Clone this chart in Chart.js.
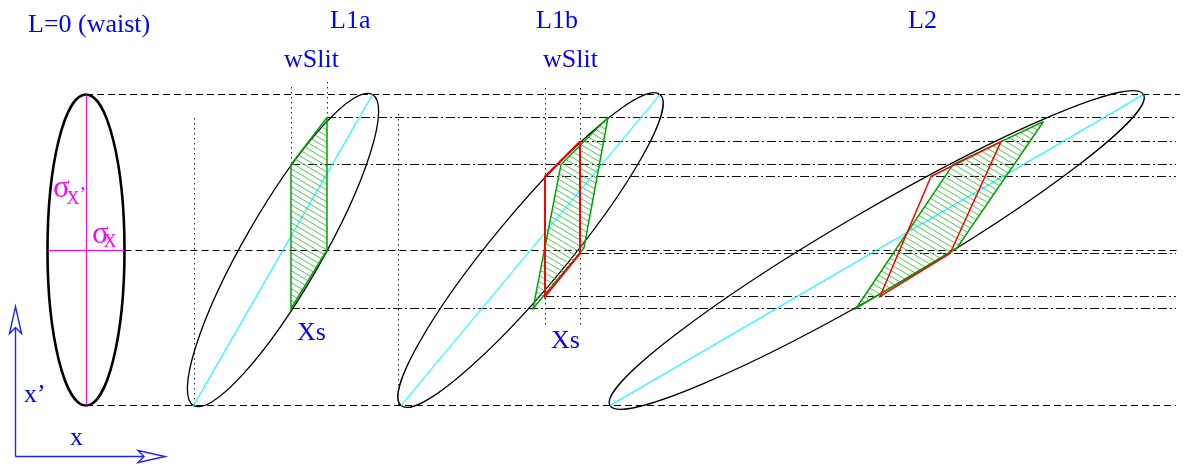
<!DOCTYPE html>
<html>
<head>
<meta charset="utf-8">
<script src="https://cdn.jsdelivr.net/npm/chart.js@4.4.1/dist/chart.umd.min.js"></script>
<style>
  html, body { margin: 0; padding: 0; background: #fff; }
  #wrap { width: 1186px; height: 464px; position: relative; }
</style>
</head>
<body>
<div id="wrap"><canvas id="phase"></canvas></div>
<script>
// x = position (horizontal), x' = angle (vertical, 0 on the beam axis), same units on both
const xRange = [0, 1186];
const yRange = [-214, 250];

// phase-space ellipse at each drift length: ends of the major axis and semi-minor axis
const stations = ['waist', 'L1a', 'L1b', 'L2'];
const axisLow = [[86, -155.5], [193.5, -155.5], [401, -155.5], [610, -155.5]];
const axisHigh = [[86, 155.5], [372.5, 155.5], [660, 155.5], [1143.5, 155.5]];
const minorAxis = [38.5, 38.9, 37, 39.7];
const ellipseWidth = [2.6, 1.3, 1.3, 1.3];

// sigma markers on the waist ellipse
const sigmaXp = [[86.5, -155.5], [86.5, 155.5]];
const sigmaX = [[47.5, -0.5], [124.5, -0.5]];

// dashed envelope lines
const dashedLevels = [155.5, -0.5, -155.5];
const dashedFrom = [86, 124.5, 86];
const dashedTo = [1180, 1180, 1176];

// dash-dot lines at the slit cut levels
const cutLevels = [132.5, 108.5, 85.5, 73.5, -3.5, -46.5, -58.5];
const cutFrom = [327, 580, 291, 545, 580, 545, 291];
const cutTo = 1176;

// dotted verticals (slit edges, tip markers)
const slitLines = [194.5, 291.5, 327.5, 398.5, 545.5, 580.5];
const slitTop = [132, 163, 168, 136, 162, 162];
const slitBottom = [-155.5, 85.5, 132.5, -155.5, -76, -76];

// beam passing the slit (green, hatched) and slit acceptance (red)
const l1aPassed = [[327, 132.5], [291, 85.5], [291, -58.5], [327, 0]];
const l1bPassed = [[608, 132.5], [561, 85.5], [533, -58.5], [584, 2]];
const l1bSlit = [[580, 108.5], [545, 73.5], [545, -46.5], [580, -3.5]];
const l2Passed = [[1043.5, 128.5], [953, 85.5], [856, -58.5], [957, 2]];
const l2Slit = [[931, 73.5], [1001, 108.5], [950, -3.5], [880, -46.5]];

// text labels (baseline left)
const labelText = ['L=0 (waist)', 'L1a', 'L1b', 'L2', 'wSlit', 'wSlit', 'Xs', 'Xs', 'x\u2019', 'x'];
const labelX = [28, 330, 536, 908, 284, 543, 297, 551, 24, 70];
const labelY = [218, 222, 222, 222, 183.3, 183.3, -90, -98, -152, -195];

// axis arrows
const arrowOrigin = [15.5, -206.5];
const arrowTips = [[165, -206.5], [15.5, -56.5]];

const pts = arr => arr.map(p => ({ x: p[0], y: p[1] }));
const closed = arr => pts(arr.concat([arr[0]]));

// hatch for the transmitted beam
const tile = document.createElement('canvas');
tile.width = 10; tile.height = 6;
const tc = tile.getContext('2d');
tc.strokeStyle = '#3cbf3c';
tc.lineWidth = 0.9;
[-6, 0, 6].forEach(off => {
  tc.beginPath(); tc.moveTo(0, off); tc.lineTo(10, off + 6); tc.stroke();
});
const hatch = tc.createPattern(tile, 'repeat');

function line(data, color, width, dash, order) {
  return { data, showLine: true, borderColor: color, borderWidth: width, borderDash: dash || [],
    pointRadius: 0, fill: false, order, tension: 0 };
}

const datasets = [];
dashedLevels.forEach((lv, i) => datasets.push(line(pts([[dashedFrom[i], lv], [dashedTo[i], lv]]), '#000', 1, [7, 4], 10)));
cutLevels.forEach((lv, i) => datasets.push(line(pts([[cutFrom[i], lv], [cutTo, lv]]), '#111', 1, [9, 3, 2, 3], 10)));
slitLines.forEach((sx, i) => datasets.push(line(pts([[sx, slitTop[i]], [sx, slitBottom[i]]]), '#222', 1, [1.5, 3.5], 10)));
datasets.push(line(pts(sigmaXp), '#ff00ff', 1, null, 8));
datasets.push(line(pts(sigmaX), '#ff00ff', 1, null, 8));
for (let i = 1; i < stations.length; i++) {
  datasets.push(line(pts([axisLow[i], axisHigh[i]]), '#00ffff', 1.1, null, 7));
}
[l1aPassed, l1bPassed, l2Passed].forEach(poly => {
  const d = line(closed(poly), '#00a400', 1.5, null, 5);
  d.fill = 'shape';
  d.backgroundColor = hatch;
  datasets.push(d);
});
datasets.push(line(closed(l1bSlit), '#ff0000', 2, null, 3));
datasets.push(line(closed(l2Slit), '#ff0000', 1.5, null, 3));

const phasePlugin = {
  id: 'phase',
  beforeDatasetsDraw(chart) {
    const { ctx, scales: { x, y } } = chart;
    ctx.save();
    stations.forEach((name, i) => {
      const x0 = x.getPixelForValue(axisLow[i][0]), y0 = y.getPixelForValue(axisLow[i][1]);
      const x1 = x.getPixelForValue(axisHigh[i][0]), y1 = y.getPixelForValue(axisHigh[i][1]);
      const rx = Math.hypot(x1 - x0, y1 - y0) / 2;
      const ry = Math.abs(x.getPixelForValue(minorAxis[i]) - x.getPixelForValue(0));
      ctx.beginPath();
      ctx.ellipse((x0 + x1) / 2, (y0 + y1) / 2, rx, ry, Math.atan2(y1 - y0, x1 - x0), 0, Math.PI * 2);
      ctx.lineWidth = ellipseWidth[i];
      ctx.strokeStyle = '#000';
      ctx.stroke();
    });
    ctx.restore();
  },
  afterDatasetsDraw(chart) {
    const { ctx, scales: { x, y } } = chart;
    ctx.save();
    ctx.textBaseline = 'alphabetic';
    ctx.textAlign = 'left';
    ctx.fillStyle = '#0000ff';
    ctx.font = '26px "Liberation Serif"';
    labelText.forEach((t, i) => ctx.fillText(t, x.getPixelForValue(labelX[i]), y.getPixelForValue(labelY[i])));

    // sigma labels
    ctx.fillStyle = '#ff00ff';
    const put = (t, px, py, size) => {
      ctx.font = size + 'px "Liberation Serif"';
      ctx.fillText(t, x.getPixelForValue(px), y.getPixelForValue(py));
    };
    put('\u03c3', 53, 53.3, 31); put('X', 66.5, 46, 18); put('\u2019', 79, 49, 22);
    put('\u03c3', 92, 7, 31); put('X', 103.5, 3, 18);

    // x / x' axis arrows with open heads
    ctx.strokeStyle = '#2222ff';
    ctx.fillStyle = '#fff';
    ctx.lineWidth = 1.4;
    const ox = x.getPixelForValue(arrowOrigin[0]), oy = y.getPixelForValue(arrowOrigin[1]);
    arrowTips.forEach(tp => {
      const tx = x.getPixelForValue(tp[0]), ty = y.getPixelForValue(tp[1]);
      const len = Math.hypot(tx - ox, ty - oy);
      const ux = (tx - ox) / len, uy = (ty - oy) / len, nx = -uy, ny = ux;
      const bx = tx - 27 * ux, by = ty - 27 * uy;
      const kx = tx - 21 * ux, ky = ty - 21 * uy;
      ctx.beginPath(); ctx.moveTo(ox, oy); ctx.lineTo(kx, ky); ctx.stroke();
      ctx.beginPath();
      ctx.moveTo(tx, ty);
      ctx.lineTo(bx + 6 * nx, by + 6 * ny);
      ctx.lineTo(kx, ky);
      ctx.lineTo(bx - 6 * nx, by - 6 * ny);
      ctx.closePath();
      ctx.fill(); ctx.stroke();
    });
    ctx.restore();
  }
};

new Chart(document.getElementById('phase'), {
  type: 'scatter',
  data: { datasets },
  options: {
    responsive: true,
    maintainAspectRatio: false,
    animation: false,
    events: [],
    layout: { padding: 0 },
    plugins: { legend: { display: false }, tooltip: { enabled: false } },
    scales: {
      x: { type: 'linear', min: xRange[0], max: xRange[1], display: false },
      y: { type: 'linear', min: yRange[0], max: yRange[1], display: false }
    }
  },
  plugins: [phasePlugin]
});
</script>
</body>
</html>
